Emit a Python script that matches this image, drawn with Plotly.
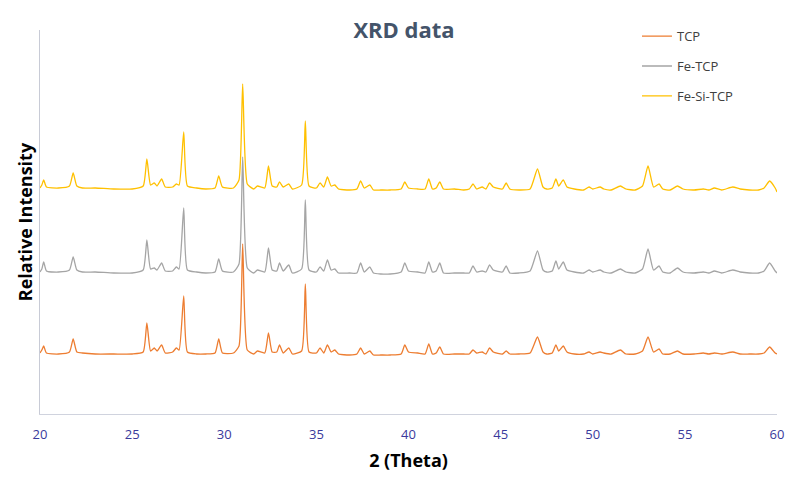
"""
XRD patterns of TCP, Fe-TCP and Fe-Si-TCP, stacked with vertical offsets.
"""

import plotly.graph_objects as go

# --------------------------------------------------
# Data (2 theta, relative intensity incl. stacking offset)
# --------------------------------------------------
two_theta = [
    20.0, 20.1, 20.2, 20.35, 21.0, 21.6, 21.8, 22.0, 22.3, 23.0, 24.0, 25.0,
    25.6, 25.8, 26.0, 26.2, 26.35, 26.6, 26.8, 27.2, 27.4, 27.55, 27.8, 28.0,
    28.5, 29.0, 29.5, 29.7, 29.9, 30.5, 30.8, 31.0, 31.25, 31.6, 31.8, 32.2,
    32.4, 32.6, 32.85, 33.0, 33.2, 33.5, 33.7, 34.2, 34.4, 34.6, 35.0, 35.2,
    35.4, 35.6, 35.8, 36.0, 36.2, 36.8, 37.2, 37.4, 37.6, 37.9, 38.1, 38.5,
    39.0, 39.6, 39.8, 40.0, 40.5, 40.9, 41.1, 41.3, 41.5, 41.7, 41.9, 42.5,
    43.0, 43.3, 43.5, 43.7, 44.0, 44.2, 44.4, 44.6, 45.1, 45.3, 45.5, 46.0,
    46.6, 47.0, 47.3, 47.5, 47.8, 48.0, 48.15, 48.4, 48.6, 49.0, 49.5, 49.8,
    50.0, 50.4, 50.6, 51.0, 51.5, 51.8, 52.3, 52.7, 53.0, 53.3, 53.6, 53.8,
    54.2, 54.6, 54.9, 55.5, 56.0, 56.3, 56.6, 57.0, 57.6, 58.0, 58.5, 59.0,
    59.3, 59.6, 59.9, 60.0,
]

tcp = [
    61, 64, 68, 61, 60, 62, 75, 62, 61, 60, 60, 60,
    62, 91, 63, 66, 63, 69, 61, 62, 66, 64, 118, 62,
    60, 60, 61, 75, 61, 61, 68, 170, 64, 60, 63, 61,
    81, 62, 62, 69, 61, 66, 60, 63, 130, 62, 61, 66,
    61, 69, 62, 64, 60, 59, 60, 66, 60, 63, 59, 59,
    59, 60, 69, 62, 61, 60, 70, 60, 61, 67, 60, 60,
    60, 60, 64, 61, 62, 60, 66, 62, 60, 63, 60, 60,
    61, 77, 62, 60, 61, 69, 63, 68, 62, 60, 60, 62,
    60, 62, 61, 60, 64, 60, 60, 63, 77, 62, 65, 60,
    60, 63, 60, 60, 61, 60, 61, 60, 62, 60, 60, 60,
    61, 67, 61, 60,
]

fe_tcp = [
    142, 145, 152, 143, 142, 144, 157, 144, 142, 142, 141, 141,
    144, 174, 145, 146, 144, 151, 143, 143, 147, 145, 206, 144,
    142, 141, 142, 155, 143, 142, 150, 257, 146, 141, 144, 142,
    166, 144, 143, 151, 143, 149, 141, 145, 214, 144, 142, 147,
    143, 154, 144, 145, 141, 141, 141, 151, 142, 147, 141, 140,
    140, 142, 151, 143, 142, 141, 152, 142, 143, 151, 141, 141,
    141, 141, 148, 142, 143, 142, 149, 144, 142, 148, 141, 141,
    143, 163, 144, 142, 143, 153, 145, 152, 144, 142, 141, 144,
    142, 144, 142, 141, 145, 142, 141, 145, 165, 144, 148, 142,
    141, 146, 142, 141, 142, 141, 143, 141, 144, 142, 141, 141,
    143, 151, 143, 141,
]

fe_si_tcp = [
    226, 229, 234, 227, 226, 228, 241, 228, 226, 226, 225, 225,
    228, 255, 229, 231, 228, 235, 227, 227, 230, 229, 282, 228,
    226, 225, 226, 238, 227, 226, 234, 330, 230, 225, 228, 226,
    248, 228, 227, 232, 227, 230, 225, 229, 293, 228, 226, 231,
    227, 237, 228, 229, 225, 224, 225, 233, 226, 229, 224, 224,
    224, 225, 232, 226, 225, 225, 235, 225, 226, 232, 225, 225,
    224, 225, 230, 225, 227, 225, 231, 227, 225, 231, 225, 224,
    225, 245, 227, 225, 226, 235, 228, 234, 227, 225, 224, 227,
    225, 227, 225, 224, 228, 225, 224, 228, 248, 227, 230, 225,
    224, 228, 225, 224, 225, 224, 226, 224, 227, 225, 224, 224,
    226, 233, 226, 222,
]

series_names = ["TCP", "Fe-TCP", "Fe-Si-TCP"]
series_values = [tcp, fe_tcp, fe_si_tcp]
series_colors = ["#ED7D31", "#A5A5A5", "#FFC000"]

x_ticks = [20, 25, 30, 35, 40, 45, 50, 55, 60]

# --------------------------------------------------
# Plot
# --------------------------------------------------
fig = go.Figure()

for name, values, color in zip(series_names, series_values, series_colors):
    fig.add_trace(
        go.Scatter(
            x=two_theta,
            y=values,
            mode="lines",
            name=name,
            legendgroup=name,
            line=dict(color=color, width=1.3, shape="spline", smoothing=0.5),
        )
    )

# page body keeps an 8 px margin, so the figure is sized to fit inside it
fig.update_layout(
    width=792,
    height=469,
    paper_bgcolor="white",
    plot_bgcolor="white",
    font=dict(family="Open Sans, Lato, sans-serif"),
    title=dict(
        text="<b>XRD data</b>",
        x=0.5,
        xanchor="center",
        y=0.953,
        yanchor="middle",
        font=dict(size=22, color="#44546A"),
    ),
    xaxis=dict(
        title=dict(text="<b>2 (Theta)</b>", font=dict(size=18, color="black"), standoff=12),
        range=[20, 60],
        tickvals=x_ticks,
        ticks="",
        ticklabelstandoff=8,
        showgrid=False,
        zeroline=False,
        showline=True,
        linecolor="#D0D3DE",
        linewidth=1,
        tickfont=dict(size=13, color="#3A3A9C"),
        automargin=False,
    ),
    yaxis=dict(
        title=dict(text="<b>Relative Intensity</b>", font=dict(size=18, color="black"), standoff=1),
        range=[0, 384],
        showticklabels=False,
        ticks="",
        showgrid=False,
        zeroline=False,
        showline=True,
        linecolor="#C8CBD6",
        linewidth=1,
        automargin=False,
    ),
    legend=dict(
        x=0.81,
        xanchor="left",
        yref="container",
        y=0.972,
        yanchor="top",
        tracegroupgap=10,
        font=dict(size=13, color="#404040"),
        bgcolor="rgba(0,0,0,0)",
    ),
    margin=dict(l=32, r=23, t=22, b=63, autoexpand=False),
)

fig.write_html("out.html")
